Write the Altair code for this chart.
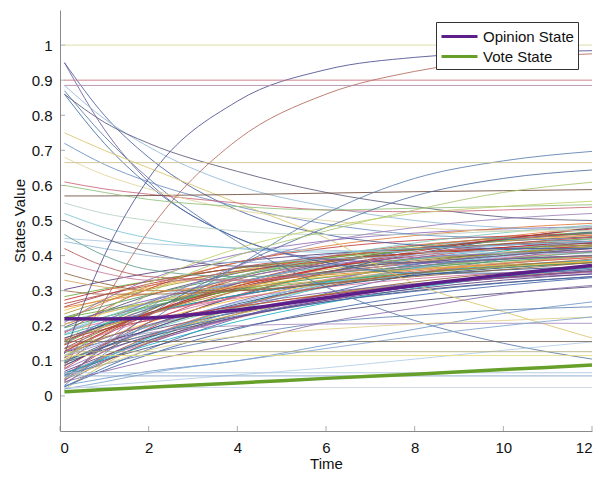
import altair as alt
import pandas as pd

# ---------------- data ----------------
time_points = [0.1, 1, 2, 4, 6, 8, 10, 12]

opinion_state = [0.22, 0.219, 0.222, 0.245, 0.28, 0.315, 0.345, 0.372]
vote_state = [0.012, 0.018, 0.025, 0.037, 0.05, 0.062, 0.075, 0.088]

# constant agents (value held over the whole run)
flat_levels = [1.0, 0.90, 0.885, 0.665, 0.155, 0.126, 0.115, 0.066, 0.057, 0.024]

# the dense bundle rising from low opinions
band_curves = [
    [0.026, 0.080, 0.133, 0.222, 0.292, 0.347, 0.390, 0.424],
    [0.059, 0.128, 0.192, 0.287, 0.351, 0.393, 0.422, 0.441],
    [0.086, 0.138, 0.189, 0.269, 0.329, 0.374, 0.406, 0.431],
    [0.110, 0.183, 0.244, 0.324, 0.367, 0.391, 0.404, 0.411],
    [0.126, 0.180, 0.231, 0.314, 0.375, 0.421, 0.454, 0.479],
    [0.156, 0.204, 0.249, 0.315, 0.360, 0.389, 0.410, 0.423],
    [0.184, 0.218, 0.252, 0.310, 0.354, 0.390, 0.418, 0.439],
    [0.037, 0.097, 0.152, 0.234, 0.289, 0.325, 0.350, 0.366],
    [0.065, 0.110, 0.153, 0.222, 0.273, 0.312, 0.340, 0.361],
    [0.096, 0.148, 0.199, 0.284, 0.352, 0.405, 0.446, 0.479],
    [0.121, 0.201, 0.268, 0.355, 0.402, 0.428, 0.443, 0.451],
    [0.134, 0.168, 0.200, 0.252, 0.290, 0.319, 0.340, 0.355],
    [0.147, 0.205, 0.259, 0.338, 0.392, 0.427, 0.451, 0.467],
    [0.164, 0.199, 0.233, 0.286, 0.326, 0.356, 0.378, 0.394],
    [0.196, 0.242, 0.286, 0.350, 0.393, 0.421, 0.441, 0.454],
    [0.213, 0.238, 0.263, 0.305, 0.338, 0.364, 0.385, 0.401],
    [0.244, 0.276, 0.307, 0.357, 0.394, 0.422, 0.442, 0.457],
    [0.273, 0.301, 0.326, 0.364, 0.389, 0.406, 0.417, 0.425],
    [0.047, 0.107, 0.164, 0.256, 0.325, 0.376, 0.413, 0.441],
    [0.076, 0.126, 0.172, 0.241, 0.287, 0.317, 0.338, 0.352],
    [0.108, 0.172, 0.232, 0.320, 0.380, 0.419, 0.446, 0.464],
    [0.124, 0.155, 0.186, 0.238, 0.279, 0.311, 0.337, 0.357],
    [0.156, 0.203, 0.248, 0.321, 0.375, 0.416, 0.445, 0.467],
    [0.179, 0.248, 0.305, 0.380, 0.421, 0.443, 0.455, 0.462],
    [0.204, 0.240, 0.273, 0.321, 0.354, 0.376, 0.390, 0.400],
    [0.224, 0.256, 0.288, 0.342, 0.384, 0.417, 0.444, 0.464],
    [0.252, 0.272, 0.291, 0.322, 0.345, 0.362, 0.374, 0.384],
    [0.019, 0.090, 0.155, 0.252, 0.318, 0.361, 0.391, 0.410],
    [0.056, 0.108, 0.159, 0.244, 0.312, 0.365, 0.406, 0.439],
    [0.091, 0.173, 0.242, 0.332, 0.381, 0.407, 0.422, 0.430],
    [0.135, 0.177, 0.218, 0.283, 0.332, 0.368, 0.394, 0.414],
    [0.165, 0.202, 0.236, 0.287, 0.321, 0.344, 0.359, 0.369],
    [0.185, 0.224, 0.263, 0.324, 0.370, 0.404, 0.429, 0.447],
    [0.234, 0.270, 0.303, 0.351, 0.384, 0.406, 0.420, 0.430],
    [0.283, 0.305, 0.327, 0.364, 0.393, 0.416, 0.434, 0.448],
    [0.043, 0.144, 0.228, 0.338, 0.397, 0.430, 0.448, 0.458],
    [0.065, 0.102, 0.138, 0.195, 0.238, 0.270, 0.293, 0.311],
    [0.096, 0.141, 0.186, 0.257, 0.309, 0.349, 0.377, 0.399],
    [0.116, 0.164, 0.209, 0.275, 0.320, 0.349, 0.370, 0.383],
    [0.145, 0.190, 0.234, 0.308, 0.366, 0.411, 0.448, 0.476],
    [0.174, 0.206, 0.237, 0.287, 0.324, 0.352, 0.372, 0.387],
    [0.209, 0.275, 0.331, 0.403, 0.442, 0.464, 0.476, 0.482],
    [0.263, 0.289, 0.314, 0.355, 0.385, 0.407, 0.423, 0.435],
    [0.303, 0.327, 0.350, 0.383, 0.405, 0.420, 0.430, 0.436],
    [0.026, 0.073, 0.118, 0.191, 0.245, 0.286, 0.315, 0.337],
    [0.078, 0.146, 0.209, 0.301, 0.364, 0.405, 0.433, 0.452],
    [0.125, 0.165, 0.203, 0.258, 0.295, 0.320, 0.336, 0.347],
    [0.194, 0.225, 0.255, 0.303, 0.338, 0.365, 0.384, 0.399],
    [0.216, 0.266, 0.312, 0.381, 0.427, 0.457, 0.478, 0.492],
    [0.104, 0.140, 0.175, 0.233, 0.280, 0.316, 0.345, 0.367],
    [0.057, 0.113, 0.167, 0.253, 0.317, 0.365, 0.400, 0.426],
    [0.136, 0.188, 0.236, 0.306, 0.354, 0.385, 0.407, 0.421],
    [0.183, 0.211, 0.237, 0.279, 0.310, 0.334, 0.351, 0.364],
    [0.087, 0.140, 0.189, 0.262, 0.311, 0.343, 0.365, 0.380],
    [0.115, 0.156, 0.197, 0.266, 0.320, 0.363, 0.397, 0.423],
    [0.155, 0.196, 0.235, 0.299, 0.346, 0.381, 0.406, 0.426],
    [0.223, 0.244, 0.265, 0.300, 0.328, 0.350, 0.367, 0.380],
    [0.048, 0.111, 0.169, 0.255, 0.313, 0.351, 0.377, 0.395],
    [0.095, 0.132, 0.168, 0.225, 0.268, 0.300, 0.323, 0.340],
    [0.176, 0.223, 0.268, 0.341, 0.395, 0.436, 0.465, 0.487],
    [0.204, 0.236, 0.266, 0.310, 0.340, 0.360, 0.373, 0.382],
    [0.127, 0.183, 0.236, 0.313, 0.365, 0.399, 0.423, 0.438],
    [0.065, 0.105, 0.145, 0.212, 0.265, 0.307, 0.340, 0.365],
    [0.148, 0.213, 0.266, 0.336, 0.374, 0.395, 0.406, 0.412],
    [0.254, 0.288, 0.319, 0.366, 0.397, 0.418, 0.432, 0.441],
    [0.070, 0.115, 0.158, 0.225, 0.272, 0.305, 0.330, 0.348],
    [0.100, 0.140, 0.175, 0.228, 0.268, 0.298, 0.322, 0.340],
    [0.160, 0.190, 0.215, 0.255, 0.288, 0.315, 0.337, 0.355],
    [0.045, 0.100, 0.150, 0.225, 0.276, 0.312, 0.337, 0.356],
]

# agents starting a bit above the bundle and dipping into it
dip_curves = [
    [0.449, 0.441, 0.434, 0.422, 0.415, 0.410, 0.407, 0.405],
    [0.42, 0.37, 0.34, 0.33, 0.35, 0.37, 0.39, 0.40],
    [0.35, 0.32, 0.30, 0.30, 0.32, 0.34, 0.36, 0.38],
    [0.38, 0.35, 0.33, 0.33, 0.35, 0.38, 0.40, 0.42],
    [0.46, 0.40, 0.36, 0.34, 0.35, 0.37, 0.39, 0.41],
    [0.33, 0.31, 0.30, 0.31, 0.33, 0.36, 0.38, 0.40],
    [0.50, 0.45, 0.41, 0.37, 0.37, 0.38, 0.40, 0.42],
    [0.44, 0.42, 0.40, 0.38, 0.39, 0.40, 0.42, 0.44],
    [0.30, 0.29, 0.29, 0.30, 0.32, 0.35, 0.37, 0.39],
]

# agents starting high and falling
falling_curves = [
    [0.95, 0.80, 0.68, 0.53, 0.46, 0.43, 0.42, 0.42],
    [0.95, 0.76, 0.61, 0.45, 0.39, 0.38, 0.39, 0.40],
    [0.885, 0.79, 0.71, 0.60, 0.54, 0.50, 0.48, 0.47],
    [0.87, 0.74, 0.62, 0.44, 0.31, 0.215, 0.15, 0.105],
    [0.86, 0.72, 0.60, 0.45, 0.38, 0.35, 0.35, 0.36],
    [0.86, 0.78, 0.72, 0.64, 0.58, 0.54, 0.51, 0.50],
    [0.72, 0.66, 0.61, 0.54, 0.49, 0.46, 0.45, 0.44],
    [0.75, 0.70, 0.65, 0.55, 0.45, 0.32, 0.24, 0.165],
    [0.61, 0.59, 0.575, 0.55, 0.53, 0.525, 0.53, 0.538],
    [0.57, 0.57, 0.571, 0.574, 0.578, 0.582, 0.585, 0.588],
    [0.68, 0.63, 0.59, 0.53, 0.50, 0.48, 0.47, 0.47],
    [0.60, 0.58, 0.56, 0.54, 0.53, 0.535, 0.54, 0.545],
    [0.55, 0.52, 0.50, 0.47, 0.46, 0.46, 0.47, 0.48],
    [0.52, 0.48, 0.45, 0.42, 0.41, 0.42, 0.43, 0.44],
]

# agents rising above the bundle
rising_curves = [
    [0.12, 0.40, 0.62, 0.84, 0.93, 0.965, 0.978, 0.984],
    [0.08, 0.27, 0.47, 0.73, 0.86, 0.925, 0.96, 0.975],
    [0.03, 0.12, 0.21, 0.37, 0.52, 0.62, 0.67, 0.697],
    [0.05, 0.14, 0.23, 0.37, 0.48, 0.57, 0.62, 0.644],
    [0.10, 0.20, 0.29, 0.40, 0.47, 0.53, 0.58, 0.609],
    [0.15, 0.24, 0.32, 0.42, 0.48, 0.52, 0.54, 0.555],
    [0.04, 0.15, 0.25, 0.37, 0.44, 0.48, 0.505, 0.52],
]

# slow agents below the bundle
low_curves = [
    [0.04, 0.07, 0.10, 0.15, 0.21, 0.25, 0.29, 0.315],
    [0.03, 0.05, 0.07, 0.10, 0.145, 0.19, 0.235, 0.268],
    [0.06, 0.09, 0.12, 0.17, 0.21, 0.23, 0.245, 0.254],
    [0.11, 0.15, 0.18, 0.20, 0.205, 0.206, 0.207, 0.207],
    [0.05, 0.09, 0.13, 0.17, 0.19, 0.205, 0.215, 0.225],
    [0.02, 0.03, 0.04, 0.06, 0.08, 0.105, 0.13, 0.154],
    [0.02, 0.04, 0.065, 0.10, 0.135, 0.17, 0.20, 0.225],
]

x_ticks = [0, 2, 4, 6, 8, 10, 12]
y_ticks = [0, 0.1, 0.2, 0.3, 0.4, 0.5, 0.6, 0.7, 0.8, 0.9, 1.0]

# ---------------- styles ----------------
palette = ["#3f65a8", "#c0393d", "#7a5aa8", "#4f9e5c", "#e07b39", "#c9b24c",
           "#4fb0c9", "#8c5a32", "#d1709f", "#2f4b7c", "#8fbbe8", "#a89a2a",
           "#6aa83a", "#e0664e", "#4f4f73", "#7ccab8", "#efb83a", "#c4262a",
           "#1aaec0", "#8e6ab8", "#b0413e", "#5a3d7a"]
flat_colors = ["#d9d89a", "#c9707a", "#a98aa8", "#cbbf8e", "#7d6a5a",
               "#b0ad78", "#e6dc7a", "#a9c7df", "#7f9fc4", "#c9d6e6"]
falling_colors = ["#4a5f9e", "#6d5a9c", "#8fb8d8", "#5878a8", "#3b6ea5", "#5a5a7a",
                  "#6c8ebf", "#d9c46a", "#c9667a", "#6e4b3a", "#e0d49a", "#8fbf7a",
                  "#b7d1c1", "#7cc6d6"]
rising_colors = ["#4b4f8f", "#b36a5a", "#5a7fb0", "#4f6fa0", "#a8c470", "#c2cf6a", "#9a80b8"]
low_colors = ["#8a6aa8", "#6f98c8", "#5c80b0", "#a48ac0", "#e2cf8a", "#b3cde6", "#7fa3cf"]
dip_colors = ["#a9c7df", "#b05a5a", "#8c613c", "#c47a9a", "#5f9e8f", "#d4a35a",
              "#5a5a7a", "#8fb8d8", "#9a6a4a"]

rows = []
cid = 0


def add(curves, colors):
    global cid
    for i, vals in enumerate(curves):
        col = colors[i % len(colors)]
        for t, v in zip(time_points, vals):
            rows.append({"id": cid, "t": t, "v": v, "c": col})
        cid += 1


add(band_curves, palette)
add(dip_curves, dip_colors)
add(falling_curves, falling_colors)
add(rising_curves, rising_colors)
add(low_curves, low_colors)
for lvl, col in zip(flat_levels, flat_colors):
    rows.append({"id": cid, "t": time_points[0], "v": lvl, "c": col})
    rows.append({"id": cid, "t": time_points[-1], "v": lvl, "c": col})
    cid += 1

thin_df = pd.DataFrame(rows)

thick_rows = []
for t, o, g in zip(time_points, opinion_state, vote_state):
    thick_rows.append({"t": t, "v": o, "series": "Opinion State"})
    thick_rows.append({"t": t, "v": g, "series": "Vote State"})
thick_df = pd.DataFrame(thick_rows)

FONT = "Liberation Sans"
xscale = alt.Scale(domain=[0, 12], nice=False)
yscale = alt.Scale(domain=[-0.1, 1.1], nice=False)

x_enc = alt.X("t:Q", scale=xscale,
              axis=alt.Axis(values=x_ticks, title="Time", ticks=False, labelPadding=9,
                            titlePadding=1, domainColor="#8a8a8a", labelColor="#111",
                            titleColor="#111", labelFontSize=15, titleFontSize=15,
                            titleFontWeight="normal", labelFont=FONT, titleFont=FONT))
y_enc = alt.Y("v:Q", scale=yscale,
              axis=alt.Axis(values=y_ticks, title="States Value", ticks=False, labelPadding=8,
                            format="~g", titlePadding=4, domainColor="#8a8a8a",
                            labelColor="#111", titleColor="#111", labelFontSize=15,
                            titleFontSize=15, titleFontWeight="normal",
                            labelFont=FONT, titleFont=FONT))

thin = alt.Chart(thin_df).mark_line(strokeWidth=0.9, opacity=0.95, interpolate="monotone").encode(
    x=x_enc, y=y_enc,
    detail="id:N",
    color=alt.Color("c:N", scale=None),
)

thick = alt.Chart(thick_df).mark_line(strokeWidth=3.5, interpolate="monotone").encode(
    x=alt.X("t:Q", scale=xscale),
    y=alt.Y("v:Q", scale=yscale),
    color=alt.Color(
        "series:N",
        scale=alt.Scale(domain=["Opinion State", "Vote State"], range=["#5c1f8a", "#66a02a"]),
        legend=alt.Legend(
            title=None, orient="none", legendX=376, legendY=12,
            symbolType="M-1,0H3", symbolSize=324, symbolStrokeWidth=3,
            labelOffset=22, labelFontSize=15, labelFont=FONT, labelColor="#111",
            rowPadding=1, padding=4, strokeColor="#333", fillColor="white",
            labelLimit=200,
        ),
    ),
)

xt = alt.Chart(pd.DataFrame({"t": x_ticks})).mark_tick(
    orient="vertical", size=5, thickness=1, color="#8a8a8a").encode(
    x=alt.X("t:Q", scale=xscale), y=alt.value(418.5))
yt = alt.Chart(pd.DataFrame({"v": y_ticks})).mark_tick(
    orient="horizontal", size=5, thickness=1, color="#8a8a8a").encode(
    y=alt.Y("v:Q", scale=yscale), x=alt.value(2.5))

chart = alt.layer(thin, thick, xt, yt).resolve_scale(color="independent").properties(
    width=532, height=421,
    autosize=alt.AutoSizeParams(type="none"),
    padding={"left": 52, "top": 2, "right": 1, "bottom": 40},
).configure_view(stroke=None).configure_axis(grid=False)

chart.save("out.html", embed_options={"renderer": "svg", "actions": False})
